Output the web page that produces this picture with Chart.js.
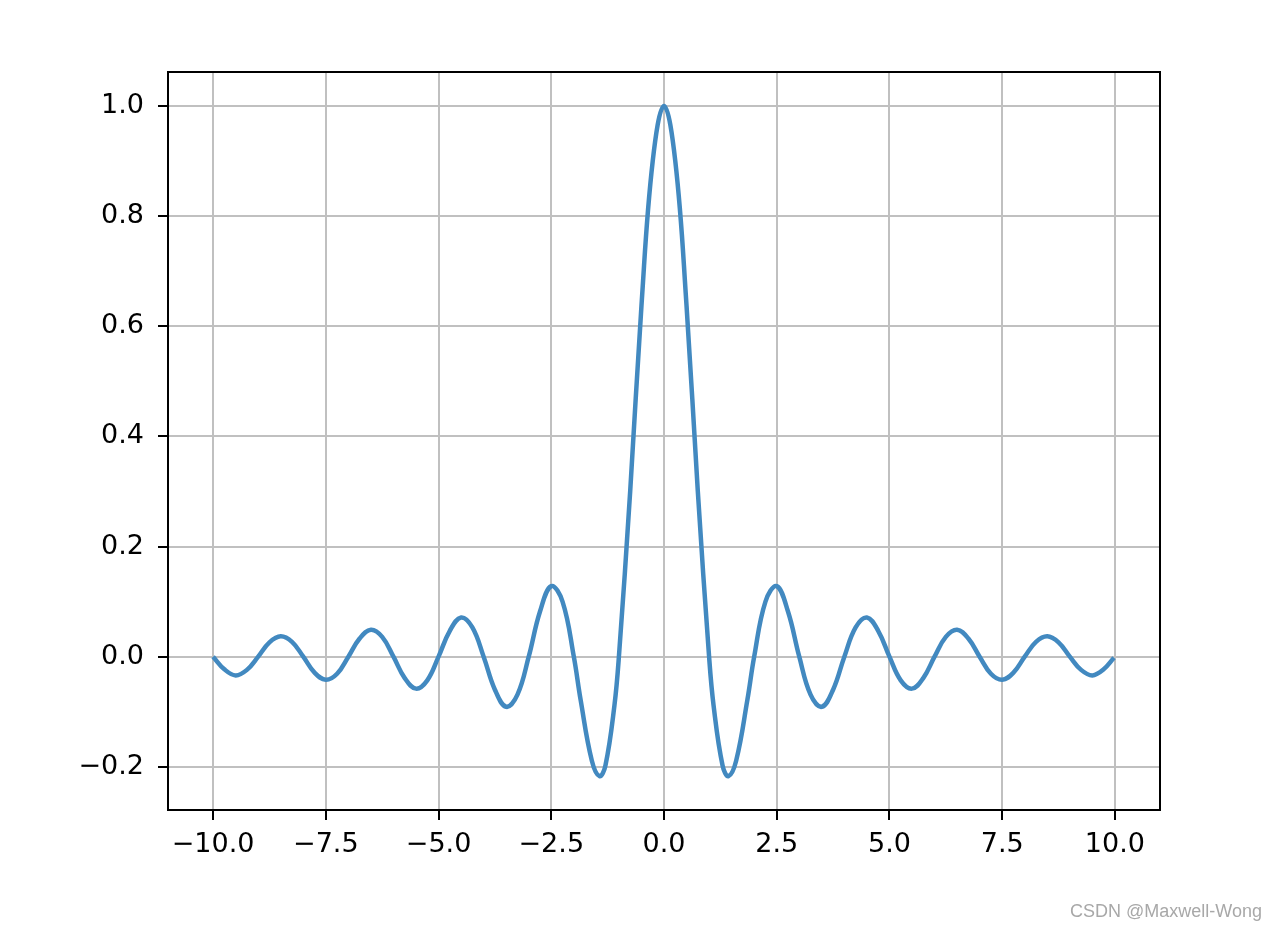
<!DOCTYPE html>
<html>
<head>
<meta charset="utf-8">
<script src="https://cdn.jsdelivr.net/npm/chart.js@4/dist/chart.umd.min.js"></script>
<style>
  html, body { margin: 0; padding: 0; background: #fff; }
  #wrap { position: relative; width: 1278px; height: 928px; }
  #mark {
    position: absolute; right: 16px; bottom: 6px;
    font-family: "Liberation Sans", Arial, sans-serif; font-size: 18px; color: #a8a8a8;
  }
</style>
</head>
<body>
<div id="wrap">
  <canvas id="chart" width="1278" height="928"></canvas>
  <div id="mark">CSDN @Maxwell-Wong</div>
</div>
<script>
// x positions and curve values
const xs = [
  -10, -9.75, -9.5, -9.25, -9, -8.75, -8.5, -8.25, -8, -7.75, -7.5, -7.25, -7,
  -6.75, -6.5, -6.25, -6, -5.75, -5.5, -5.25, -5, -4.75, -4.5, -4.25, -4,
  -3.75, -3.5, -3.25, -3, -2.75, -2.5, -2.25, -2, -1.85, -1.6, -1.43, -1.3, -1.1, -1,
  -0.75, -0.5, -0.25, 0, 0.25, 0.5, 0.75, 1, 1.1, 1.3, 1.43, 1.6, 1.85, 2,
  2.25, 2.5, 2.75, 3, 3.25, 3.5, 3.75, 4, 4.25, 4.5, 4.75, 5,
  5.25, 5.5, 5.75, 6, 6.25, 6.5, 6.75, 7, 7.25, 7.5, 7.75, 8,
  8.25, 8.5, 8.75, 9, 9.25, 9.5, 9.75, 9.98
];
const ys = [
  0, -0.023, -0.034, -0.024, 0, 0.026, 0.037, 0.027, 0, -0.029, -0.042, -0.031, 0,
  0.033, 0.049, 0.036, 0, -0.039, -0.058, -0.043, 0, 0.047, 0.071, 0.053, 0,
  -0.060, -0.091, -0.069, 0, 0.082, 0.128, 0.100, 0, -0.078, -0.189, -0.217, -0.198, -0.089, 0,
  0.300, 0.637, 0.900, 1.0, 0.900, 0.637, 0.300, 0, -0.089, -0.198, -0.217, -0.189, -0.078, 0,
  0.100, 0.128, 0.082, 0, -0.069, -0.091, -0.060, 0, 0.053, 0.071, 0.047, 0,
  -0.043, -0.058, -0.039, 0, 0.036, 0.049, 0.033, 0, -0.031, -0.042, -0.029, 0,
  0.027, 0.037, 0.026, 0, -0.024, -0.034, -0.023, -0.002
];
const xTicks = [-10, -7.5, -5, -2.5, 0, 2.5, 5, 7.5, 10];
const yTicks = [-0.2, 0, 0.2, 0.4, 0.6, 0.8, 1.0];

const fmt = (v, d) => v.toFixed(d).replace('-', '\u2212');

// black frame round the plot area
const frame = {
  id: 'frame',
  afterDraw(chart) {
    const { ctx, chartArea: a } = chart;
    ctx.save();
    ctx.strokeStyle = '#000';
    ctx.lineWidth = 2;
    ctx.strokeRect(a.left, a.top, a.right - a.left, a.bottom - a.top);
    ctx.restore();
  }
};

const font = { family: 'DejaVu Sans', size: 27 };

new Chart(document.getElementById('chart'), {
  type: 'line',
  data: {
    datasets: [{
      data: xs.map((x, i) => ({ x, y: ys[i] })),
      borderColor: '#4289c0',
      borderWidth: 4.5,
      pointRadius: 0,
      fill: false,
      tension: 0.4,
    }],
  },
  options: {
    responsive: false,
    animation: false,
    layout: { padding: { left: 38, top: 72, right: 118, bottom: 48 } },
    plugins: { legend: { display: false }, tooltip: { enabled: false } },
    scales: {
      x: {
        type: 'linear', min: -11, max: 11,
        afterBuildTicks: s => { s.ticks = xTicks.map(v => ({ value: v })); },
        afterFit: s => { s.height = 70; },
        grid: { color: '#c0c0c0', lineWidth: 2, tickColor: '#000', tickLength: 10 },
        border: { display: false },
        ticks: { color: '#000', font, padding: 9, maxRotation: 0, callback: v => fmt(v, 1) },
      },
      y: {
        min: -0.2784, max: 1.0616,
        afterBuildTicks: s => { s.ticks = yTicks.map(v => ({ value: v })); },
        afterFit: s => { s.width = 130; },
        grid: { color: '#c0c0c0', lineWidth: 2, tickColor: '#000', tickLength: 10 },
        border: { display: false },
        ticks: { color: '#000', font, padding: 14, callback: v => fmt(v, 1) },
      },
    },
  },
  plugins: [frame],
});
</script>
</body>
</html>
